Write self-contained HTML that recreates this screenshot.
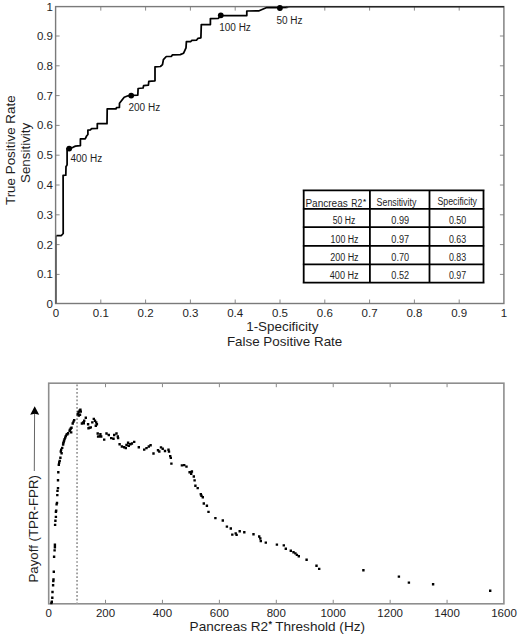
<!DOCTYPE html><html><head><meta charset="utf-8"><style>html,body{margin:0;padding:0;background:#fff;width:520px;height:636px;overflow:hidden}</style></head><body><svg width="520" height="636" viewBox="0 0 520 636" style="display:block">
<rect width="520" height="636" fill="#fff"/>
<path d="M100.80 303.5V299.5M100.80 6.6V10.6M55.6 274.40H59.6M503.9 274.40H499.9M145.60 303.5V299.5M145.60 6.6V10.6M55.6 244.60H59.6M503.9 244.60H499.9M190.40 303.5V299.5M190.40 6.6V10.6M55.6 214.80H59.6M503.9 214.80H499.9M235.20 303.5V299.5M235.20 6.6V10.6M55.6 185.00H59.6M503.9 185.00H499.9M280.00 303.5V299.5M280.00 6.6V10.6M55.6 155.20H59.6M503.9 155.20H499.9M324.80 303.5V299.5M324.80 6.6V10.6M55.6 125.40H59.6M503.9 125.40H499.9M369.60 303.5V299.5M369.60 6.6V10.6M55.6 95.60H59.6M503.9 95.60H499.9M414.40 303.5V299.5M414.40 6.6V10.6M55.6 65.80H59.6M503.9 65.80H499.9M459.20 303.5V299.5M459.20 6.6V10.6M55.6 36.00H59.6M503.9 36.00H499.9" stroke="#8a8a8a" stroke-width="1" fill="none"/>
<rect x="55.6" y="6.6" width="448.29999999999995" height="296.9" fill="none" stroke="#7a7a7a" stroke-width="1.4"/>
<g font-family='"Liberation Sans", sans-serif' font-size="11.5" fill="#1e1e1e">
<text x="52.9" y="308.46" text-anchor="end">0</text>
<text x="52.9" y="278.36" text-anchor="end">0.1</text>
<text x="52.9" y="248.56" text-anchor="end">0.2</text>
<text x="52.9" y="218.76" text-anchor="end">0.3</text>
<text x="52.9" y="188.96" text-anchor="end">0.4</text>
<text x="52.9" y="159.16" text-anchor="end">0.5</text>
<text x="52.9" y="129.36" text-anchor="end">0.6</text>
<text x="52.9" y="99.56" text-anchor="end">0.7</text>
<text x="52.9" y="69.76" text-anchor="end">0.8</text>
<text x="52.9" y="39.96" text-anchor="end">0.9</text>
<text x="52.9" y="10.66" text-anchor="end">1</text>
<text x="56.00" y="317.2" text-anchor="middle">0</text>
<text x="100.80" y="317.2" text-anchor="middle">0.1</text>
<text x="145.60" y="317.2" text-anchor="middle">0.2</text>
<text x="190.40" y="317.2" text-anchor="middle">0.3</text>
<text x="235.20" y="317.2" text-anchor="middle">0.4</text>
<text x="280.00" y="317.2" text-anchor="middle">0.5</text>
<text x="324.80" y="317.2" text-anchor="middle">0.6</text>
<text x="369.60" y="317.2" text-anchor="middle">0.7</text>
<text x="414.40" y="317.2" text-anchor="middle">0.8</text>
<text x="459.20" y="317.2" text-anchor="middle">0.9</text>
<text x="504.00" y="317.2" text-anchor="middle">1</text>
</g>
<g font-family='"Liberation Sans", sans-serif' font-size="13.4" fill="#1e1e1e" text-anchor="middle">
<text x="282.3" y="331">1-Specificity</text>
<text x="284.6" y="346.3">False Positive Rate</text>
<text transform="translate(14.9 150.2) rotate(-90)">True Positive Rate</text>
<text transform="translate(30.3 152.9) rotate(-90)">Sensitivity</text>
</g>
<path d="M56 303.5V235.5" stroke="#606060" stroke-width="1.7" fill="none"/>
<path d="M56.5 235.5 L61.4 235.5 L63.2 233.5 L63.1 175.3 L65.8 175.2 L66.0 166.6 L66.8 165.5 L67.1 164.5 L67.1 148.5 L69.5 148.3 L73 147.3 L75.4 146.1 L80.4 145.7 L80.4 138.9 L85.2 138.8 L86.6 136 L87.9 134.5 L87.9 130.2 L90.4 129.9 L91.6 128.7 L97.3 128.5 L97.3 123.7 L107 123.7 L107.2 108.8 L116 108.8 L116.5 107.6 L119.4 107.5 L119.5 103.2 L124.2 97.2 L128 95.8 L131.1 95.4 L137.8 95.2 L138.1 88.5 L143.1 88 L143.6 85.6 L148.4 85.1 L148.8 81.3 L155 80.8 L155 66.8 L160.4 66.5 L162.5 64.7 L163.4 59.6 L166.3 56.5 L171.5 56.3 L172.5 54.8 L180.2 54.6 L183.6 53.2 L186 47.9 L186.4 41.6 L190.8 41.6 L191.7 40.4 L196.5 40.2 L198 38.3 L200.9 37.8 L201.3 24.6 L210.4 24.6 L210.4 18.6 L218.5 18.3 L220.6 15.6 L246.8 15.6 L246.8 11 L259.1 10.8 L266.8 7.5 L277.9 7.5 L280.3 7.7 L287.5 7.4" stroke="#000" stroke-width="1.75" fill="none" stroke-linejoin="round"/>
<path d="M286 7.2 L290 6.8 H503.9" stroke="#262626" stroke-width="1.6" fill="none"/>
<circle cx="69.2" cy="148.6" r="2.9" fill="#000"/>
<circle cx="131.2" cy="95.6" r="2.9" fill="#000"/>
<circle cx="220.8" cy="15.3" r="2.9" fill="#000"/>
<circle cx="279.9" cy="8.0" r="2.9" fill="#000"/>
<g font-family='"Liberation Sans", sans-serif' font-size="10" fill="#1e1e1e">
<text x="70.5" y="162.2">400 Hz</text>
<text x="128.5" y="110.8">200 Hz</text>
<text x="219.2" y="31.0">100 Hz</text>
<text x="276.4" y="24.2">50 Hz</text>
</g>
<rect x="303.7" y="190.4" width="179.8" height="92.20000000000002" fill="#fff"/>
<path d="M303.7 189.4V283.6M369.9 189.4V283.6M429.5 189.4V283.6M483.5 189.4V283.6M302.7 190.4H484.5M302.7 208.8H484.5M302.7 227.2H484.5M302.7 245.8H484.5M302.7 264.4H484.5M302.7 282.6H484.5" stroke="#000" stroke-width="1.8" fill="none"/>
<g font-family='"Liberation Sans", sans-serif' font-size="10" fill="#1e1e1e">
<text x="305.4" y="206.8" textLength="42.4" lengthAdjust="spacingAndGlyphs">Pancreas</text>
<text x="351.2" y="206.8" textLength="11.0" lengthAdjust="spacingAndGlyphs">R2</text>
<text x="363.1" y="203.6" font-size="8" font-weight="bold">*</text>
<text x="376.6" y="205.6" textLength="39.7" lengthAdjust="spacingAndGlyphs">Sensitivity</text>
<text x="437.4" y="205.1" textLength="39.6" lengthAdjust="spacingAndGlyphs">Specificity</text>
<text x="332.7" y="224.00" textLength="22.5" lengthAdjust="spacingAndGlyphs">50 Hz</text>
<text x="391.3" y="224.00" textLength="17.8" lengthAdjust="spacingAndGlyphs">0.99</text>
<text x="448.9" y="224.00" textLength="17.3" lengthAdjust="spacingAndGlyphs">0.50</text>
<text x="330.6" y="242.60" textLength="27.9" lengthAdjust="spacingAndGlyphs">100 Hz</text>
<text x="391.3" y="242.60" textLength="17.8" lengthAdjust="spacingAndGlyphs">0.97</text>
<text x="448.9" y="242.60" textLength="17.3" lengthAdjust="spacingAndGlyphs">0.63</text>
<text x="330.2" y="261.20" textLength="28.4" lengthAdjust="spacingAndGlyphs">200 Hz</text>
<text x="391.3" y="261.20" textLength="17.8" lengthAdjust="spacingAndGlyphs">0.70</text>
<text x="448.9" y="261.20" textLength="17.3" lengthAdjust="spacingAndGlyphs">0.83</text>
<text x="329.8" y="279.40" textLength="28.8" lengthAdjust="spacingAndGlyphs">400 Hz</text>
<text x="391.3" y="279.40" textLength="17.8" lengthAdjust="spacingAndGlyphs">0.52</text>
<text x="448.9" y="279.40" textLength="17.3" lengthAdjust="spacingAndGlyphs">0.97</text>
</g>
<path d="M105.525 603.8V599.8M105.525 383.2V387.2M162.45 603.8V599.8M162.45 383.2V387.2M219.375 603.8V599.8M219.375 383.2V387.2M276.3 603.8V599.8M276.3 383.2V387.2M333.225 603.8V599.8M333.225 383.2V387.2M390.15000000000003 603.8V599.8M390.15000000000003 383.2V387.2M447.07500000000005 603.8V599.8M447.07500000000005 383.2V387.2" stroke="#8a8a8a" stroke-width="1" fill="none"/>
<rect x="48.7" y="383.2" width="455.2" height="220.59999999999997" fill="none" stroke="#8e8e8e" stroke-width="1.6"/>
<line x1="77.05" y1="384.44" x2="77.05" y2="603.8" stroke="#a0a0a0" stroke-width="1.9" stroke-dasharray="1.7 2.06"/>
<g font-family='"Liberation Sans", sans-serif' font-size="11.5" fill="#1e1e1e" text-anchor="middle">
<text x="48.60" y="616.65">0</text>
<text x="105.53" y="616.65">200</text>
<text x="162.45" y="616.65">400</text>
<text x="219.38" y="616.65">600</text>
<text x="276.30" y="616.65">800</text>
<text x="333.23" y="616.65">1000</text>
<text x="390.15" y="616.65">1200</text>
<text x="447.08" y="616.65">1400</text>
<text x="504.00" y="616.65">1600</text>
</g>
<g font-family='"Liberation Sans", sans-serif' font-size="13.3" fill="#1e1e1e">
<text x="189.6" y="630.6" font-size="13.6">Pancreas R2<tspan font-size="9" font-weight="bold" dy="-3.6" dx="0.2">*</tspan><tspan dy="3.6" dx="-0.3"> Threshold (Hz)</tspan></text>
<text transform="translate(37.9 582.6) rotate(-90)">Payoff (TPR-FPR)</text>
</g>
<line x1="34.3" y1="471" x2="34.6" y2="412" stroke="#666" stroke-width="1"/>
<path d="M34.7 406.3 L39.2 414.8 L34.7 413.8 L30.2 414.8 Z" fill="#000"/>
<path d="M50.2 601.8h2.4v2.4h-2.4zM50.6 600.6h2.4v2.4h-2.4zM51.1 596.5h2.4v2.4h-2.4zM51.3 590.8h2.4v2.4h-2.4zM51.9 584.0h2.4v2.4h-2.4zM52.1 579.8h2.4v2.4h-2.4zM52.3 578.3h2.4v2.4h-2.4zM52.6 570.5h2.4v2.4h-2.4zM52.9 555.6h2.4v2.4h-2.4zM53.4 549.2h2.4v2.4h-2.4zM53.7 546.1h2.4v2.4h-2.4zM53.7 543.5h2.4v2.4h-2.4zM53.9 523.7h2.4v2.4h-2.4zM54.2 519.5h2.4v2.4h-2.4zM54.7 515.7h2.4v2.4h-2.4zM54.7 510.5h2.4v2.4h-2.4zM55.0 509.4h2.4v2.4h-2.4zM55.4 503.2h2.4v2.4h-2.4zM55.8 501.7h2.4v2.4h-2.4zM56.1 493.9h2.4v2.4h-2.4zM56.3 489.7h2.4v2.4h-2.4zM56.8 486.9h2.4v2.4h-2.4zM56.8 479.0h2.4v2.4h-2.4zM57.1 471.1h2.4v2.4h-2.4zM57.6 463.6h2.4v2.4h-2.4zM58.0 461.3h2.4v2.4h-2.4zM58.5 459.7h2.4v2.4h-2.4zM59.2 456.6h2.4v2.4h-2.4zM59.6 450.3h2.4v2.4h-2.4zM60.4 452.0h2.4v2.4h-2.4zM60.0 448.4h2.4v2.4h-2.4zM61.0 446.7h2.4v2.4h-2.4zM61.9 443.4h2.4v2.4h-2.4zM62.1 442.1h2.4v2.4h-2.4zM62.5 440.8h2.4v2.4h-2.4zM62.9 439.4h2.4v2.4h-2.4zM63.4 437.9h2.4v2.4h-2.4zM64.0 436.4h2.4v2.4h-2.4zM64.6 434.9h2.4v2.4h-2.4zM65.3 433.4h2.4v2.4h-2.4zM66.1 433.1h2.4v2.4h-2.4zM66.9 432.0h2.4v2.4h-2.4zM68.4 429.6h2.4v2.4h-2.4zM68.8 428.5h2.4v2.4h-2.4zM69.6 427.3h2.4v2.4h-2.4zM70.3 426.6h2.4v2.4h-2.4zM70.0 431.2h2.4v2.4h-2.4zM71.5 422.3h2.4v2.4h-2.4zM72.3 420.4h2.4v2.4h-2.4zM73.0 418.9h2.4v2.4h-2.4zM76.5 413.1h2.4v2.4h-2.4zM77.6 414.3h2.4v2.4h-2.4zM78.8 413.5h2.4v2.4h-2.4zM77.3 410.8h2.4v2.4h-2.4zM78.4 409.6h2.4v2.4h-2.4zM79.2 408.5h2.4v2.4h-2.4zM79.6 410.4h2.4v2.4h-2.4zM84.6 416.6h2.4v2.4h-2.4zM83.0 419.6h2.4v2.4h-2.4zM81.9 421.2h2.4v2.4h-2.4zM80.7 422.3h2.4v2.4h-2.4zM82.6 422.0h2.4v2.4h-2.4zM86.9 423.1h2.4v2.4h-2.4zM87.3 427.0h2.4v2.4h-2.4zM88.4 426.6h2.4v2.4h-2.4zM89.6 426.2h2.4v2.4h-2.4zM91.1 421.2h2.4v2.4h-2.4zM92.6 417.7h2.4v2.4h-2.4zM93.8 419.6h2.4v2.4h-2.4zM95.0 421.2h2.4v2.4h-2.4zM95.7 423.1h2.4v2.4h-2.4zM94.6 424.6h2.4v2.4h-2.4zM96.5 432.3h2.4v2.4h-2.4zM96.9 435.4h2.4v2.4h-2.4zM97.6 435.3h2.4v2.4h-2.4zM99.2 433.0h2.4v2.4h-2.4zM100.0 435.3h2.4v2.4h-2.4zM103.0 438.4h2.4v2.4h-2.4zM105.3 432.3h2.4v2.4h-2.4zM107.6 433.8h2.4v2.4h-2.4zM110.0 436.9h2.4v2.4h-2.4zM112.3 437.6h2.4v2.4h-2.4zM113.0 433.8h2.4v2.4h-2.4zM115.3 432.3h2.4v2.4h-2.4zM116.6 435.3h2.4v2.4h-2.4zM116.9 436.9h2.4v2.4h-2.4zM118.4 443.0h2.4v2.4h-2.4zM120.7 445.3h2.4v2.4h-2.4zM123.0 446.1h2.4v2.4h-2.4zM124.6 446.9h2.4v2.4h-2.4zM125.3 443.8h2.4v2.4h-2.4zM126.9 441.5h2.4v2.4h-2.4zM127.6 444.6h2.4v2.4h-2.4zM129.2 443.0h2.4v2.4h-2.4zM130.7 442.3h2.4v2.4h-2.4zM133.0 440.7h2.4v2.4h-2.4zM137.6 446.1h2.4v2.4h-2.4zM143.0 448.4h2.4v2.4h-2.4zM145.3 446.9h2.4v2.4h-2.4zM147.6 445.3h2.4v2.4h-2.4zM152.3 452.3h2.4v2.4h-2.4zM156.8 449.1h2.4v2.4h-2.4zM158.1 450.3h2.4v2.4h-2.4zM159.8 446.2h2.4v2.4h-2.4zM161.5 447.6h2.4v2.4h-2.4zM163.8 449.8h2.4v2.4h-2.4zM167.3 448.6h2.4v2.4h-2.4zM167.8 450.4h2.4v2.4h-2.4zM169.0 454.9h2.4v2.4h-2.4zM169.6 456.7h2.4v2.4h-2.4zM149.4 444.0h2.4v2.4h-2.4zM170.2 462.4h2.4v2.4h-2.4zM180.7 464.2h2.4v2.4h-2.4zM183.0 463.9h2.4v2.4h-2.4zM185.3 465.4h2.4v2.4h-2.4zM188.4 471.1h2.4v2.4h-2.4zM190.0 472.6h2.4v2.4h-2.4zM190.7 470.3h2.4v2.4h-2.4zM192.6 475.3h2.4v2.4h-2.4zM193.4 479.2h2.4v2.4h-2.4zM194.2 484.6h2.4v2.4h-2.4zM196.5 486.9h2.4v2.4h-2.4zM199.6 493.0h2.4v2.4h-2.4zM200.3 494.6h2.4v2.4h-2.4zM201.6 496.1h2.4v2.4h-2.4zM202.6 502.3h2.4v2.4h-2.4zM205.7 504.6h2.4v2.4h-2.4zM207.3 510.7h2.4v2.4h-2.4zM214.2 516.9h2.4v2.4h-2.4zM221.6 519.3h2.4v2.4h-2.4zM225.7 525.4h2.4v2.4h-2.4zM229.6 527.3h2.4v2.4h-2.4zM231.1 533.4h2.4v2.4h-2.4zM234.5 532.2h2.4v2.4h-2.4zM235.4 533.7h2.4v2.4h-2.4zM238.5 530.0h2.4v2.4h-2.4zM243.1 531.1h2.4v2.4h-2.4zM252.3 533.1h2.4v2.4h-2.4zM258.0 535.3h2.4v2.4h-2.4zM259.1 537.3h2.4v2.4h-2.4zM259.6 539.9h2.4v2.4h-2.4zM264.6 541.4h2.4v2.4h-2.4zM275.7 543.4h2.4v2.4h-2.4zM282.6 544.2h2.4v2.4h-2.4zM284.6 547.6h2.4v2.4h-2.4zM289.6 549.6h2.4v2.4h-2.4zM292.3 551.1h2.4v2.4h-2.4zM294.2 552.2h2.4v2.4h-2.4zM295.7 553.7h2.4v2.4h-2.4zM297.6 555.0h2.4v2.4h-2.4zM305.4 558.5h2.4v2.4h-2.4zM315.3 564.6h2.4v2.4h-2.4zM318.0 567.7h2.4v2.4h-2.4zM362.2 569.1h2.4v2.4h-2.4zM397.7 575.4h2.4v2.4h-2.4zM407.7 581.4h2.4v2.4h-2.4zM431.9 583.0h2.4v2.4h-2.4zM489.0 589.5h2.4v2.4h-2.4z" fill="#000"/>
</svg></body></html>
